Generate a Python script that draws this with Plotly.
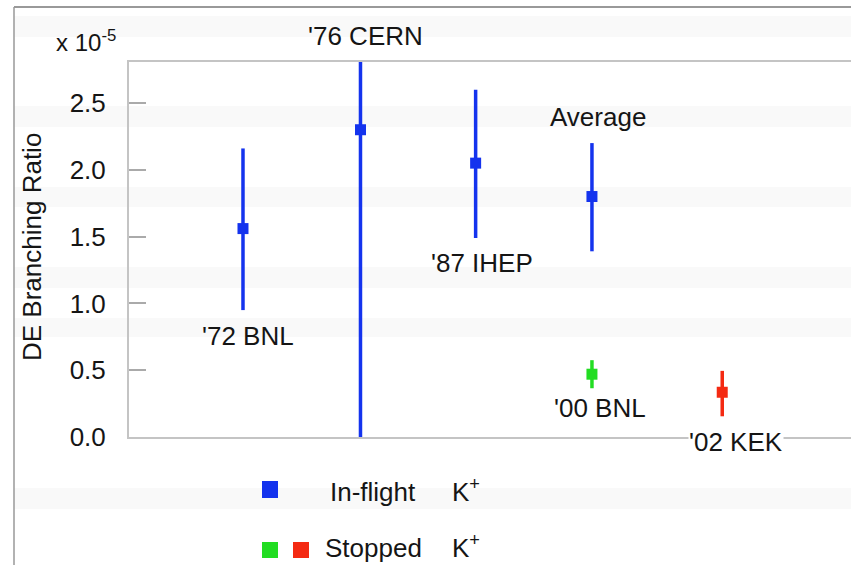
import plotly.graph_objects as go

# ---- data ----
labels = ["'72 BNL", "'76 CERN", "'87 IHEP", "Average", "'00 BNL", "'02 KEK"]
xpos = [1.0, 2.01, 3.0, 4.0, 4.0, 5.12]
values = [1.56, 2.30, 2.05, 1.80, 0.47, 0.335]
err_plus = [0.60, 2.30, 0.55, 0.40, 0.105, 0.16]
err_minus = [0.61, 2.30, 0.56, 0.41, 0.105, 0.18]
groups = ["inflight", "inflight", "inflight", "inflight", "stopped_bnl", "stopped_kek"]
label_x = [1.04, 2.05, 3.055, 4.05, 4.07, 5.24]
label_y = [0.756, 3.0, 1.30, 2.395, 0.217, -0.037]
ytick_vals = [0.0, 0.5, 1.0, 1.5, 2.0, 2.5]
ytick_text = ["0.0", "0.5", "1.0", "1.5", "2.0", "2.5"]
Y_MAX = 2.807

colors = {"inflight": "#1433ee", "stopped_bnl": "#22dd22", "stopped_kek": "#f42a12"}
FONT = "Liberation Sans, Arial, sans-serif"

fig = go.Figure()
for g in ["inflight", "stopped_bnl", "stopped_kek"]:
    idx = [i for i, gg in enumerate(groups) if gg == g]
    fig.add_trace(go.Scatter(
        x=[xpos[i] for i in idx], y=[values[i] for i in idx],
        mode="markers",
        marker=dict(symbol="square", size=11, color=colors[g]),
        error_y=dict(type="data", array=[err_plus[i] for i in idx],
                     arrayminus=[err_minus[i] for i in idx],
                     thickness=3.5, width=0, color=colors[g]),
        showlegend=False, cliponaxis=True,
    ))

# labels: x in data units, y converted to paper fraction so out-of-range ones still show
for i, t in enumerate(labels):
    fig.add_annotation(x=label_x[i], y=label_y[i] / Y_MAX, xref="x", yref="paper", text=t,
                       showarrow=False, font=dict(family=FONT, size=26, color="#151515"),
                       bgcolor="white" if t == "'02 KEK" else None,
                       xanchor="center", yanchor="middle", borderpad=0)

H_PLOT = 375.0
W_PLOT = 722.0
def px(xp):
    return (xp - 129) / W_PLOT
def py(yp):
    return (437 - yp) / H_PLOT

# faint background stripes
for (a, b) in [(16, 37), (106, 127), (187, 207), (267, 288), (318, 337), (488, 509)]:
    fig.add_shape(type="rect", xref="paper", yref="paper", x0=px(14), x1=px(851),
                  y0=py(b), y1=py(a), fillcolor="#f9f9f9", line_width=0, layer="below")

# outer frame
fig.add_shape(type="line", xref="paper", yref="paper", x0=px(14), x1=px(851), y0=py(7), y1=py(7),
              line=dict(color="#777777", width=1.5))
fig.add_shape(type="line", xref="paper", yref="paper", x0=px(14), x1=px(14), y0=py(7), y1=py(565),
              line=dict(color="#999999", width=1.5))

# y-axis title and exponent
fig.add_annotation(x=px(32), y=py(247), xref="paper", yref="paper", text="DE Branching Ratio",
                   textangle=-90, showarrow=False, font=dict(family=FONT, size=26, color="#151515"),
                   xanchor="center", yanchor="middle")
fig.add_annotation(x=px(54), y=py(41), xref="paper", yref="paper", text="x 10<sup>-5</sup>",
                   showarrow=False, font=dict(family=FONT, size=24, color="#151515"),
                   xanchor="left", yanchor="middle")

# legend
fig.add_shape(type="rect", xref="paper", yref="paper", x0=px(262), x1=px(278), y0=py(498), y1=py(481),
              fillcolor=colors["inflight"], line_width=0)
fig.add_shape(type="rect", xref="paper", yref="paper", x0=px(262), x1=px(278), y0=py(558), y1=py(542),
              fillcolor=colors["stopped_bnl"], line_width=0)
fig.add_shape(type="rect", xref="paper", yref="paper", x0=px(293), x1=px(309), y0=py(558), y1=py(542),
              fillcolor=colors["stopped_kek"], line_width=0)
for (txt, x0, y0) in [("In-flight", 328, 492), ("K<sup>+</sup>", 450, 490),
                      ("Stopped", 323, 548), ("K<sup>+</sup>", 450, 546)]:
    fig.add_annotation(x=px(x0), y=py(y0), xref="paper", yref="paper", text=txt, showarrow=False,
                       font=dict(family=FONT, size=26, color="#151515"), xanchor="left", yanchor="middle")

fig.update_layout(
    width=851, height=565,
    margin=dict(l=129, r=0, t=62, b=128),
    paper_bgcolor="white", plot_bgcolor="rgba(0,0,0,0)",
    xaxis=dict(range=[0.02, 6.227], showticklabels=False, ticks="", showgrid=False, zeroline=False,
               showline=True, mirror=True, linecolor="#c4c4c4", linewidth=2),
    yaxis=dict(range=[0, Y_MAX], tickvals=ytick_vals, ticktext=ytick_text, ticks="inside", ticklen=17,
               tickcolor="#aaaaaa", tickwidth=1.5, showgrid=False, zeroline=False,
               showline=True, linecolor="#c4c4c4", linewidth=2, ticklabelstandoff=16,
               tickfont=dict(family=FONT, size=26, color="#151515")),
)

fig.write_html("out.html")
